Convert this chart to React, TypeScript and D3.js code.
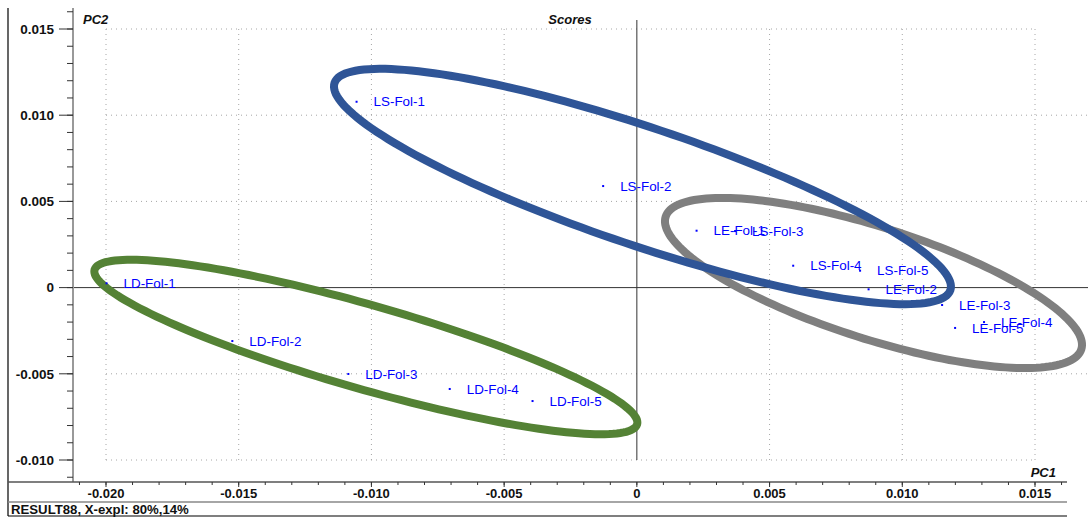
import React from "react";
import * as d3 from "d3";

// ---- data ----
const sampleNames = [
  "LD-Fol-1", "LD-Fol-2", "LD-Fol-3", "LD-Fol-4", "LD-Fol-5",
  "LS-Fol-1", "LS-Fol-2", "LS-Fol-3", "LS-Fol-4", "LS-Fol-5",
  "LE-Fol-1", "LE-Fol-2", "LE-Fol-3", "LE-Fol-4", "LE-Fol-5",
];
const pc1Scores = [
  -0.01998, -0.01524, -0.01087, -0.00705, -0.00393,
  -0.01056, -0.00127, 0.0037, 0.00589, 0.00841,
  0.00225, 0.00873, 0.0115, 0.01308, 0.01199,
];
const pc2Scores = [
  0.00025, -0.0031, -0.00501, -0.00588, -0.00658,
  0.01078, 0.00589, 0.00328, 0.00127, 0.00098,
  0.0033, -0.0001, -0.00101, -0.002, -0.00234,
];

const xTickValues = [-0.02, -0.015, -0.01, -0.005, 0, 0.005, 0.01, 0.015];
const xTickLabels = ["-0.020", "-0.015", "-0.010", "-0.005", "0", "0.005", "0.010", "0.015"];
const yTickValues = [-0.01, -0.005, 0, 0.005, 0.01, 0.015];
const yTickLabels = ["-0.010", "-0.005", "0", "0.005", "0.010", "0.015"];

// group ellipses (data units): centre, first and second half-axis vectors
const groupNames = ["LE", "LS", "LD"];
const groupColors = ["#7f7f7f", "#2f5597", "#548235"];
const groupCenterPC1 = [0.008915, 0.000211, -0.01021];
const groupCenterPC2 = [0.000267, 0.005864, -0.003445];
const groupAxis1PC1 = [0.00783, 0.0116, 0.01022];
const groupAxis1PC2 = [-0.003846, -0.00601, -0.004484];
const groupAxis2PC1 = [-0.00064, -0.000708, -0.000433];
const groupAxis2PC2 = [-0.00309, -0.003237, -0.002343];

const titleText = "Scores";
const xAxisTitle = "PC1";
const yAxisTitle = "PC2";
const statusText = "RESULT88, X-expl: 80%,14%";

// ---- layout ----
const W = 1088;
const H = 518;
const FONT = "'Liberation Sans', Arial, Helvetica, sans-serif";

export default function App() {
  const x = d3.scaleLinear().domain([-0.02, 0.015]).range([106, 1035]);
  const y = d3.scaleLinear().domain([-0.01, 0.015]).range([460, 29]);

  const axisX = 73; // y-axis line
  const axisY = 482; // x-axis line
  const plotTop = 8;
  const plotRight = W;

  const minorX = d3.range(-21, 17).map((v) => v / 1000);
  const minorY = d3.range(-11, 17).map((v) => v / 1000);

  const tParams = d3.range(0, 360, 2).map((d) => (d * Math.PI) / 180);
  const line = d3
    .line<[number, number]>()
    .x((d) => x(d[0]))
    .y((d) => y(d[1]))
    .curve(d3.curveLinearClosed);

  const ellipsePaths = groupNames.map((g, i) => {
    const pts: [number, number][] = tParams.map((t) => [
      groupCenterPC1[i] + Math.cos(t) * groupAxis1PC1[i] + Math.sin(t) * groupAxis2PC1[i],
      groupCenterPC2[i] + Math.cos(t) * groupAxis1PC2[i] + Math.sin(t) * groupAxis2PC2[i],
    ]);
    return { g, color: groupColors[i], d: line(pts) || "" };
  });

  const gridDash = "1,4";
  const gridColor = "#a6a6a6";

  return (
    <svg
      width={W}
      height={H}
      style={{ position: "absolute", left: 0, top: 0, background: "#fff" }}
      fontFamily={FONT}
    >
      <defs>
        <clipPath id="plotClip">
          <rect x={axisX + 1} y={plotTop} width={plotRight - axisX - 1} height={axisY - plotTop - 1} />
        </clipPath>
      </defs>

      <g clipPath="url(#plotClip)">
        {/* vertical grid */}
        {xTickValues
          .filter((v) => v !== 0)
          .map((v) => (
            <line
              key={"gx" + v}
              x1={x(v)}
              x2={x(v)}
              y1={y(0.015)}
              y2={y(-0.01)}
              stroke={gridColor}
              strokeWidth={1}
              strokeDasharray={gridDash}
            />
          ))}
        {/* horizontal grid */}
        {yTickValues
          .filter((v) => v !== 0)
          .map((v) => (
            <line
              key={"gy" + v}
              x1={x(-0.02)}
              x2={v === 0.015 || v === -0.01 ? x(0.015) : plotRight}
              y1={y(v)}
              y2={y(v)}
              stroke={gridColor}
              strokeWidth={1}
              strokeDasharray={gridDash}
            />
          ))}
        {/* zero lines */}
        <line x1={x(0)} x2={x(0)} y1={20} y2={y(-0.01)} stroke="#333" strokeWidth={1} />
        <line x1={axisX} x2={plotRight} y1={y(0)} y2={y(0)} stroke="#333" strokeWidth={1} />

        {/* ellipses */}
        {ellipsePaths.map((e) => (
          <path key={e.g} d={e.d} fill="none" stroke={e.color} strokeWidth={8} />
        ))}

        {/* points */}
        {sampleNames.map((n, i) => (
          <rect
            key={"p" + n}
            x={x(pc1Scores[i]) - 1}
            y={y(pc2Scores[i]) - 1}
            width={2}
            height={2}
            fill="#0000ff"
          />
        ))}
        {sampleNames.map((n, i) => (
          <text
            key={"l" + n}
            x={x(pc1Scores[i]) + 17}
            y={y(pc2Scores[i])}
            dy="0.35em"
            fontSize={13.4}
            fill="#0000ff"
          >
            {n}
          </text>
        ))}
      </g>

      {/* frame lines */}
      <line x1={8} x2={8} y1={8} y2={516} stroke="#000" strokeWidth={1.2} />
      <line x1={axisX} x2={axisX} y1={8} y2={axisY} stroke="#777" strokeWidth={1.5} />
      <line x1={8} x2={1067} y1={axisY} y2={axisY} stroke="#555" strokeWidth={1.5} />
      <line x1={8} x2={1067} y1={502} y2={502} stroke="#888" strokeWidth={1.5} />
      <line x1={8} x2={1067} y1={516} y2={516} stroke="#000" strokeWidth={1.2} />

      {/* y ticks */}
      {minorY.map((v) => (
        <line key={"my" + v} x1={axisX - 6} x2={axisX} y1={y(v)} y2={y(v)} stroke="#333" strokeWidth={1} />
      ))}
      {yTickValues.map((v, i) => (
        <g key={"ty" + v}>
          <line x1={axisX - 14} x2={axisX} y1={y(v)} y2={y(v)} stroke="#333" strokeWidth={1} />
          <text x={54} y={y(v)} dy="0.35em" textAnchor="end" fontSize={13.5} fontWeight="bold" fill="#111">
            {yTickLabels[i]}
          </text>
        </g>
      ))}

      {/* x ticks */}
      {minorX.map((v) => (
        <line key={"mx" + v} x1={x(v)} x2={x(v)} y1={axisY} y2={axisY + 3} stroke="#333" strokeWidth={1} />
      ))}
      {xTickValues.map((v, i) => (
        <g key={"tx" + v}>
          <line x1={x(v)} x2={x(v)} y1={axisY} y2={axisY + 5} stroke="#333" strokeWidth={1} />
          <text x={x(v)} y={497.5} textAnchor="middle" fontSize={13} fontWeight="bold" fill="#111">
            {xTickLabels[i]}
          </text>
        </g>
      ))}

      {/* titles */}
      <text x={83} y={24} fontSize={13} fontWeight="bold" fontStyle="italic" fill="#111">
        {yAxisTitle}
      </text>
      <text x={570} y={24} textAnchor="middle" fontSize={13} fontWeight="bold" fontStyle="italic" fill="#111">
        {titleText}
      </text>
      <text x={1056} y={477} textAnchor="end" fontSize={13} fontWeight="bold" fontStyle="italic" fill="#111">
        {xAxisTitle}
      </text>
      <text x={11} y={514} fontSize={13.2} fontWeight="bold" fill="#111">
        {statusText}
      </text>
    </svg>
  );
}
